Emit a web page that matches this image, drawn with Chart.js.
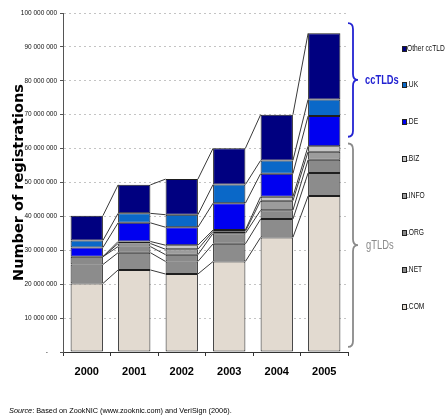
<!DOCTYPE html>
<html>
<head>
<meta charset="utf-8">
<script src="https://cdn.jsdelivr.net/npm/chart.js@4/dist/chart.umd.min.js"></script>
<style>
body { margin: 0; background: #fff; }
#wrap { position: relative; width: 448px; height: 418px; }
#source { position: absolute; left: 9px; top: 405px; font: 8px 'Liberation Sans', Arial, sans-serif; line-height: 11px; color: #000; white-space: nowrap; transform-origin: 0 50%; }
</style>
</head>
<body>
<div id="wrap">
  <canvas id="mychart" width="448" height="418"></canvas>
  <div id="source"><i>Source</i>: Based on ZookNIC (www.zooknic.com) and VeriSign (2006).</div>
</div>
<script>
//. registrations per year, in millions
var years = [ '2000', '2001', '2002', '2003', '2004', '2005' ];
var com   = [ 20.2, 24.2, 23.0, 26.7, 33.8, 46.0 ];
var net   = [  5.6,  5.1,  3.7,  5.2,  5.4,  6.8 ];
var org   = [  2.3,  1.8,  2.0,  3.1,  2.6,  3.9 ];
var info  = [  0.0,  0.9,  1.6,  0.6,  2.8,  2.4 ];
var biz   = [  0.0,  0.6,  1.2,  0.4,  1.2,  1.6 ];
var de    = [  2.7,  5.5,  5.3,  7.9,  6.8,  8.9 ];
var uk    = [  2.1,  2.8,  3.7,  5.5,  3.9,  4.9 ];
var other = [  7.3,  8.4, 10.5, 10.7, 13.5, 19.5 ];
var yTicks = [ 0, 10, 20, 30, 40, 50, 60, 70, 80, 90, 100 ];

//. value ranges covered by the two braces
var ccRange = [ 97, 63.5 ];
var gRange  = [ 61.5, 1.5 ];

var SANS = "'Liberation Sans', Arial, sans-serif";

function fmtTick( v ){
  if( v == 0 ){
    return '-     ';
  }
  var s = String( Math.round( v * 1000000 ) );
  return s.replace( /\B(?=(\d{3})+(?!\d))/g, ' ' );
}

function mkSet( label, data, color ){
  return {
    label: label,
    data: data,
    backgroundColor: color,
    borderColor: '#1e1e1e',
    borderWidth: 1,
    borderSkipped: false,
    categoryPercentage: 1.0,
    barPercentage: 0.68
  };
}

//. lines joining the top of each segment to the same segment of the next bar
var seriesLines = {
  id: 'seriesLines',
  afterDatasetsDraw: function( chart ){
    var ctx = chart.ctx;
    ctx.save();
    ctx.strokeStyle = '#3a3a3a';
    ctx.lineWidth = 1;
    chart.data.datasets.forEach( function( ds, d ){
      var bars = chart.getDatasetMeta( d ).data;
      for( var i = 0; i < bars.length - 1; i ++ ){
        var a = bars[i], b = bars[i+1];
        ctx.beginPath();
        ctx.moveTo( a.x + a.width / 2, a.y );
        ctx.lineTo( b.x - b.width / 2, b.y );
        ctx.stroke();
      }
    });
    ctx.restore();
  }
};

function drawBrace( ctx, x, y1, y2, w, color ){
  var ym = ( y1 + y2 ) / 2;
  var r = 6;
  ctx.save();
  ctx.strokeStyle = color;
  ctx.lineWidth = 1.8;
  ctx.beginPath();
  ctx.moveTo( x - w, y1 );
  ctx.quadraticCurveTo( x, y1, x, y1 + r );
  ctx.lineTo( x, ym - r );
  ctx.quadraticCurveTo( x, ym, x + w, ym );
  ctx.quadraticCurveTo( x, ym, x, ym + r );
  ctx.lineTo( x, y2 - r );
  ctx.quadraticCurveTo( x, y2, x - w, y2 );
  ctx.stroke();
  ctx.restore();
}

function squishText( ctx, text, x, y, font, color, sx ){
  ctx.save();
  ctx.font = font;
  ctx.fillStyle = color;
  ctx.textBaseline = 'middle';
  ctx.textAlign = 'left';
  ctx.translate( x, y );
  ctx.scale( sx, 1 );
  ctx.fillText( text, 0, 0 );
  ctx.restore();
}

//. braces, group names and the legend on the right
var sideNotes = {
  id: 'sideNotes',
  afterDraw: function( chart ){
    var ctx = chart.ctx;
    var ys = chart.scales.y;
    var bx = chart.chartArea.right + 5;

    var c1 = ys.getPixelForValue( ccRange[0] ), c2 = ys.getPixelForValue( ccRange[1] );
    drawBrace( ctx, bx, c1, c2, 5, '#2323d2' );
    squishText( ctx, 'ccTLDs', bx + 12, ( c1 + c2 ) / 2, "bold 13px " + SANS, '#2323d2', 0.72 );

    var g1 = ys.getPixelForValue( gRange[0] ), g2 = ys.getPixelForValue( gRange[1] );
    drawBrace( ctx, bx, g1, g2, 5, '#8a8a8a' );
    squishText( ctx, 'gTLDs', bx + 13, ( g1 + g2 ) / 2, "13px " + SANS, '#8a8a8a', 0.72 );

    var sets = chart.data.datasets.slice().reverse();
    var lx = 402, ly = 48.5, step = 36.9;
    sets.forEach( function( ds, k ){
      var y = Math.round( ly + k * step );
      ctx.fillStyle = ds.backgroundColor;
      ctx.fillRect( lx, y - 3, 5, 6 );
      ctx.strokeStyle = '#222';
      ctx.lineWidth = 1;
      ctx.strokeRect( lx + 0.5, y - 2.5, 4, 5 );
      squishText( ctx, ds.label, lx + 5, y, "9px " + SANS, '#111', 0.74 );
    });
  }
};

var datasets = [
  mkSet( '.COM',        com,   '#e2dad0' ),
  mkSet( '.NET',        net,   '#8c8c8c' ),
  mkSet( '.ORG',        org,   '#8a8a8a' ),
  mkSet( '.INFO',       info,  '#9c9c9c' ),
  mkSet( '.BIZ',        biz,   '#c6c6c6' ),
  mkSet( '.DE',         de,    '#0000f0' ),
  mkSet( '.UK',         uk,    '#0a68c8' ),
  mkSet( 'Other ccTLD', other, '#000080' )
];

var ctx = document.getElementById( 'mychart' );
var chart = new Chart( ctx, {
  type: 'bar',
  data: { labels: years, datasets: datasets },
  options: {
    responsive: false,
    animation: false,
    layout: { padding: { top: 13, right: 100, bottom: 0, left: 0 } },
    plugins: {
      legend: { display: false },
      tooltip: { enabled: false }
    },
    scales: {
      x: {
        stacked: true,
        grid: { offset: true, drawOnChartArea: false, drawTicks: true, tickLength: 4, tickColor: '#333' },
        border: { display: true, color: '#333', width: 1 },
        ticks: { padding: 9, color: '#000', font: { family: SANS, size: 11, weight: 'bold' } },
        afterFit: function( scale ){ scale.height = 66; }
      },
      y: {
        stacked: true,
        min: yTicks[0],
        max: yTicks[yTicks.length - 1],
        afterBuildTicks: function( scale ){
          scale.ticks = yTicks.map( function( v ){ return { value: v }; } );
        },
        ticks: { padding: 3, color: '#111', font: { family: SANS, size: 6.5 }, callback: fmtTick },
        grid: { color: '#c4c4c4', lineWidth: 1, drawTicks: true, tickLength: 3, tickColor: '#555', tickBorderDash: [] },
        border: { display: true, color: '#555', width: 1, dash: [ 2, 3 ] },
        title: {
          display: true,
          text: 'Number of registrations',
          color: '#000',
          font: { family: 'DejaVu Sans', size: 14.5, weight: 'bold' },
          padding: { top: 11, bottom: 0 }
        },
        afterFit: function( scale ){ scale.width = 63; }
      }
    }
  },
  plugins: [ seriesLines, sideNotes ]
});

//. fit the source line to its width under the plot
var src = document.getElementById( 'source' );
src.style.transform = 'scaleX(' + ( 223 / src.offsetWidth ) + ')';
</script>
</body>
</html>
